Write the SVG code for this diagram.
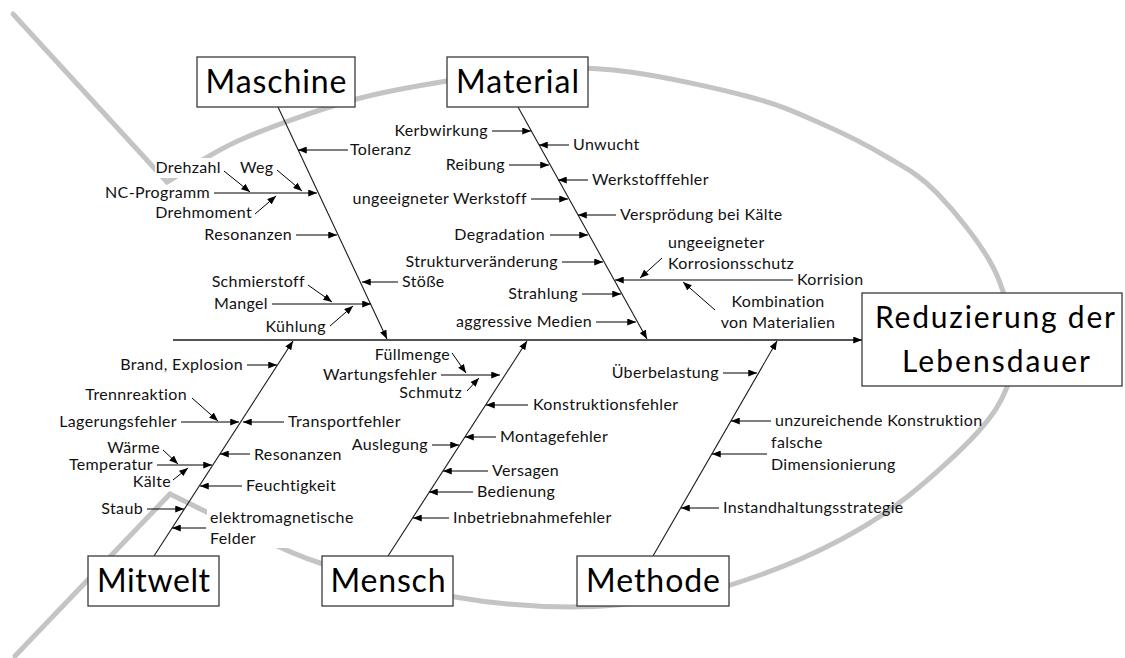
<svg xmlns="http://www.w3.org/2000/svg" width="1125" height="658" viewBox="0 0 1125 658">
  <defs>
    <marker id="ah" viewBox="0 0 10 8" refX="10" refY="4" markerWidth="9" markerHeight="7" markerUnits="userSpaceOnUse" orient="auto">
      <path d="M0,0 L10,4 L0,8 z" fill="#000"/>
    </marker>
    <style>
      .fish { fill: none; stroke: #c4c4c4; stroke-width: 5; stroke-linecap: round; }
      .box { fill: #fff; stroke: #3a3a3a; stroke-width: 1.3; }
      .big { font-family: Lato, "Liberation Sans", sans-serif; font-size: 32px; fill: #000; text-anchor: middle; }
      .head { font-family: Lato, "Liberation Sans", sans-serif; font-size: 30px; fill: #000; text-anchor: middle; }
      .t { font-family: Lato, "Liberation Sans", sans-serif; font-size: 16px; letter-spacing: 0.35px; fill: #111; }
      .e { text-anchor: end; }
      .m { text-anchor: middle; }
      .bg { fill: #fff; stroke: none; }
      .arr { fill: none; stroke: #000; stroke-width: 1; marker-end: url(#ah); }
      .bone { fill: none; stroke: #1a1a1a; stroke-width: 1.1; marker-end: url(#ah); }
      .spine { fill: none; stroke: #1a1a1a; stroke-width: 1.4; marker-end: url(#ah); }
    </style>
  </defs>

  <rect width="1125" height="658" fill="#fff"/>

  <!-- grey fish outline: tail strokes and body -->
  <g id="fish-outline">
    <line class="fish" x1="13" y1="14" x2="167" y2="182"/>
    <line class="fish" x1="15" y1="656" x2="170" y2="494"/>
    <path class="fish" d="M167,182 C179.2,175 209,153.7 240,140 C271,126.3 318.5,109.8 353,100 C387.5,90.2 415.8,86.3 447,81 C478.2,75.7 509.5,69.5 540,68 C570.5,66.5 595,67.2 630,72 C665,76.8 718.3,88.5 750,97 C781.7,105.5 797.2,113 820,123 C842.8,133 867.5,145.3 887,157 C906.5,168.7 919.3,174.7 937,193 C954.7,211.3 980.3,242.5 993,267 C1005.7,291.5 1010.7,320 1013,340 C1015.3,360 1013,371.5 1007,387 C1001,402.5 993.7,414.7 977,433 C960.3,451.3 929.8,479.2 907,497 C884.2,514.8 864.5,527 840,540 C815.5,553 786.7,565.5 760,575 C733.3,584.5 711.7,591.7 680,597 C648.3,602.3 607.5,607 570,607 C532.5,607 496.7,604.3 455,597 C413.3,589.7 355.8,574.5 320,563 C284.2,551.5 265,539.5 240,528 C215,516.5 181.7,499.7 170,494"/>
  </g>

  <!-- spine, main bones and cause arrows -->
  <g id="connectors">
    <line class="spine" x1="173" y1="340" x2="862" y2="340"/>
    <line class="bone" x1="278" y1="107" x2="387" y2="339"/>
    <line class="bone" x1="518" y1="107" x2="647" y2="339"/>
    <line class="bone" x1="154" y1="556" x2="293" y2="341"/>
    <line class="bone" x1="388" y1="556" x2="527" y2="341"/>
    <line class="bone" x1="653" y1="556" x2="777" y2="341"/>

    <!-- Maschine -->
    <line class="arr" x1="348" y1="150" x2="298" y2="150"/>
    <line class="arr" x1="214" y1="193" x2="317" y2="193"/>
    <line class="arr" x1="224" y1="171" x2="250" y2="192"/>
    <line class="arr" x1="277" y1="170" x2="302" y2="191"/>
    <line class="arr" x1="255" y1="214" x2="276" y2="196"/>
    <line class="arr" x1="296" y1="235" x2="337" y2="235"/>
    <line class="arr" x1="398" y1="282" x2="362" y2="282"/>
    <line class="arr" x1="272" y1="304" x2="371" y2="304"/>
    <line class="arr" x1="308" y1="285" x2="332" y2="302"/>
    <line class="arr" x1="330" y1="326" x2="353" y2="306"/>

    <!-- Material -->
    <line class="arr" x1="492" y1="131" x2="531" y2="131"/>
    <line class="arr" x1="569" y1="145" x2="539" y2="145"/>
    <line class="arr" x1="509" y1="165" x2="549" y2="165"/>
    <line class="arr" x1="588" y1="180" x2="558" y2="180"/>
    <line class="arr" x1="531" y1="199" x2="568" y2="199"/>
    <line class="arr" x1="616" y1="215" x2="578" y2="215"/>
    <line class="arr" x1="550" y1="235" x2="588" y2="235"/>
    <line class="arr" x1="562" y1="262" x2="603" y2="262"/>
    <line class="arr" x1="662" y1="258" x2="640" y2="278"/>
    <line class="arr" x1="793" y1="280" x2="615" y2="280"/>
    <line class="arr" x1="715" y1="310" x2="683" y2="282"/>
    <line class="arr" x1="582" y1="294" x2="621" y2="294"/>
    <line class="arr" x1="596" y1="322" x2="636" y2="322"/>

    <!-- Mitwelt -->
    <line class="arr" x1="247" y1="365" x2="277" y2="365"/>
    <line class="arr" x1="192" y1="398" x2="218" y2="421"/>
    <line class="arr" x1="181" y1="422" x2="239" y2="422"/>
    <line class="arr" x1="284" y1="422" x2="243" y2="422"/>
    <line class="arr" x1="163" y1="450" x2="178" y2="464"/>
    <line class="arr" x1="157" y1="465" x2="212" y2="465"/>
    <line class="arr" x1="173" y1="480" x2="188" y2="468"/>
    <line class="arr" x1="250" y1="454" x2="220" y2="454"/>
    <line class="arr" x1="242" y1="486" x2="200" y2="486"/>
    <line class="arr" x1="147" y1="509" x2="184" y2="509"/>
    <line class="arr" x1="206" y1="528" x2="172" y2="528"/>

    <!-- Mensch -->
    <line class="arr" x1="452" y1="353" x2="466" y2="373"/>
    <line class="arr" x1="441" y1="375" x2="500" y2="375"/>
    <line class="arr" x1="467" y1="391" x2="479" y2="378"/>
    <line class="arr" x1="528" y1="405" x2="486" y2="405"/>
    <line class="arr" x1="432" y1="445" x2="459" y2="445"/>
    <line class="arr" x1="496" y1="437" x2="465" y2="437"/>
    <line class="arr" x1="488" y1="471" x2="443" y2="471"/>
    <line class="arr" x1="473" y1="492" x2="429" y2="492"/>
    <line class="arr" x1="449" y1="518" x2="413" y2="518"/>

    <!-- Methode -->
    <line class="arr" x1="723" y1="373" x2="757" y2="373"/>
    <line class="arr" x1="771" y1="421" x2="731" y2="421"/>
    <line class="arr" x1="767" y1="454" x2="712" y2="454"/>
    <line class="arr" x1="719" y1="508" x2="681" y2="508"/>
  </g>

  <!-- category boxes and effect box -->
  <g id="maschine"><rect class="box" x="197" y="57" width="158" height="50"/><text class="big" x="276" y="93" textLength="141" lengthAdjust="spacing">Maschine</text></g>
  <g id="material"><rect class="box" x="447" y="57" width="141" height="50"/><text class="big" x="517.5" y="93" textLength="123" lengthAdjust="spacing">Material</text></g>
  <g id="mitwelt"><rect class="box" x="88" y="556" width="131" height="50"/><text class="big" x="153.5" y="592" textLength="113" lengthAdjust="spacing">Mitwelt</text></g>
  <g id="mensch"><rect class="box" x="322" y="556" width="131" height="50"/><text class="big" x="388" y="592" textLength="115" lengthAdjust="spacing">Mensch</text></g>
  <g id="methode"><rect class="box" x="577" y="556" width="152" height="50"/><text class="big" x="653" y="592" textLength="134" lengthAdjust="spacing">Methode</text></g>
  <g id="effect"><rect class="box" x="862" y="293" width="260" height="93"/>
    <text class="head" x="995" y="328" textLength="240" lengthAdjust="spacing">Reduzierung der</text>
    <text class="head" x="996" y="372" textLength="188" lengthAdjust="spacing">Lebensdauer</text></g>

  <!-- causes: Maschine -->
  <g id="c-toleranz"><text class="t" x="350" y="155">Toleranz</text></g>
  <g id="c-drehzahl"><rect class="bg" x="155" y="158" width="68" height="20"/><text class="t e" x="221" y="173">Drehzahl</text></g>
  <g id="c-weg"><text class="t" x="240" y="173">Weg</text></g>
  <g id="c-nc"><text class="t e" x="210" y="198">NC-Programm</text></g>
  <g id="c-drehmoment"><text class="t e" x="252" y="218">Drehmoment</text></g>
  <g id="c-resonanzen1"><text class="t e" x="292" y="240">Resonanzen</text></g>
  <g id="c-stoesse"><text class="t" x="402" y="287">Stöße</text></g>
  <g id="c-schmierstoff"><text class="t e" x="305" y="287">Schmierstoff</text></g>
  <g id="c-mangel"><text class="t e" x="268" y="309">Mangel</text></g>
  <g id="c-kuehlung"><text class="t e" x="326" y="332">Kühlung</text></g>

  <!-- causes: Material -->
  <g id="c-kerbwirkung"><text class="t e" x="488" y="136">Kerbwirkung</text></g>
  <g id="c-unwucht"><text class="t" x="573" y="150">Unwucht</text></g>
  <g id="c-reibung"><text class="t e" x="505" y="170">Reibung</text></g>
  <g id="c-werkstofffehler"><text class="t" x="592" y="185">Werkstofffehler</text></g>
  <g id="c-werkstoff"><text class="t e" x="527" y="204">ungeeigneter Werkstoff</text></g>
  <g id="c-versproedung"><text class="t" x="620" y="220">Versprödung bei Kälte</text></g>
  <g id="c-degradation"><text class="t e" x="545" y="240">Degradation</text></g>
  <g id="c-struktur"><text class="t e" x="558" y="267">Strukturveränderung</text></g>
  <g id="c-korrosionsschutz"><text class="t" x="668" y="248">ungeeigneter</text><text class="t" x="668" y="269">Korrosionsschutz</text></g>
  <g id="c-korrision"><text class="t" x="797" y="285">Korrision</text></g>
  <g id="c-kombination"><text class="t m" x="778" y="307">Kombination</text><text class="t m" x="778" y="328">von Materialien</text></g>
  <g id="c-strahlung"><text class="t e" x="578" y="299">Strahlung</text></g>
  <g id="c-medien"><text class="t e" x="592" y="327">aggressive Medien</text></g>

  <!-- causes: Mitwelt -->
  <g id="c-brand"><text class="t e" x="243" y="370">Brand, Explosion</text></g>
  <g id="c-trennreaktion"><text class="t e" x="187" y="400">Trennreaktion</text></g>
  <g id="c-lagerung"><text class="t e" x="177" y="427">Lagerungsfehler</text></g>
  <g id="c-transport"><text class="t" x="288" y="427">Transportfehler</text></g>
  <g id="c-waerme"><text class="t e" x="160" y="453">Wärme</text></g>
  <g id="c-temperatur"><text class="t e" x="153" y="470">Temperatur</text></g>
  <g id="c-kaelte"><text class="t e" x="171" y="487">Kälte</text></g>
  <g id="c-resonanzen2"><text class="t" x="254" y="460">Resonanzen</text></g>
  <g id="c-feuchtigkeit"><text class="t" x="246" y="491">Feuchtigkeit</text></g>
  <g id="c-staub"><text class="t e" x="143" y="514">Staub</text></g>
  <g id="c-felder"><rect class="bg" x="207" y="507" width="152" height="41"/><text class="t" x="210" y="523">elektromagnetische</text><text class="t" x="210" y="544">Felder</text></g>

  <!-- causes: Mensch -->
  <g id="c-fuellmenge"><text class="t e" x="450" y="360">Füllmenge</text></g>
  <g id="c-wartung"><text class="t e" x="437" y="380">Wartungsfehler</text></g>
  <g id="c-schmutz"><text class="t e" x="462" y="398">Schmutz</text></g>
  <g id="c-konstruktion"><text class="t" x="533" y="410">Konstruktionsfehler</text></g>
  <g id="c-auslegung"><text class="t e" x="428" y="450">Auslegung</text></g>
  <g id="c-montage"><text class="t" x="500" y="442">Montagefehler</text></g>
  <g id="c-versagen"><text class="t" x="492" y="476">Versagen</text></g>
  <g id="c-bedienung"><text class="t" x="477" y="497">Bedienung</text></g>
  <g id="c-inbetrieb"><text class="t" x="453" y="523">Inbetriebnahmefehler</text></g>

  <!-- causes: Methode -->
  <g id="c-ueberbelastung"><text class="t e" x="719" y="378">Überbelastung</text></g>
  <g id="c-unzureichend"><text class="t" x="775" y="426">unzureichende Konstruktion</text></g>
  <g id="c-dimension"><text class="t" x="771" y="448">falsche</text><text class="t" x="771" y="470">Dimensionierung</text></g>
  <g id="c-instandhaltung"><text class="t" x="723" y="513">Instandhaltungsstrategie</text></g>
</svg>
